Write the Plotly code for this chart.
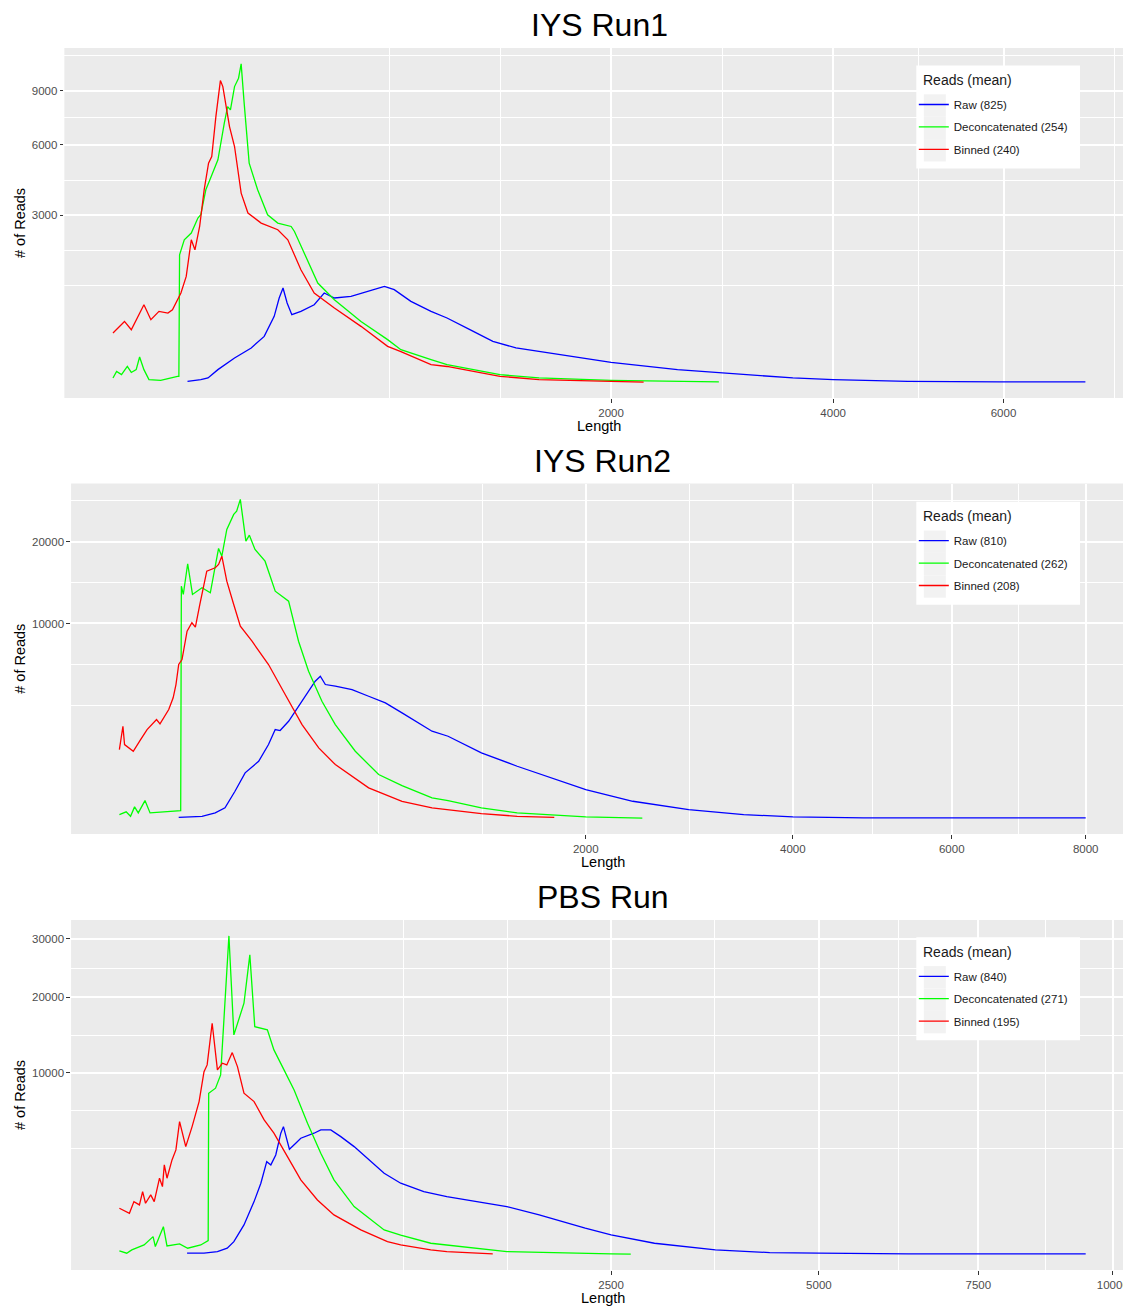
import numpy as np
import plotly.graph_objects as go

W, H = 1123, 1308          # target picture size (all layout pixels below are in this space)
FIG_W = 1129               # figure width that the photographed page is fitted from
FONT = "Liberation Sans, Arial, Helvetica, sans-serif"

# ---------------- data ----------------
# IYS Run1
run1_raw_len = [88, 110, 123, 142, 177, 216, 249, 276, 290, 301, 313, 327, 355, 398, 432, 468, 530, 596, 666, 709,
                785, 882, 963, 1085, 1215, 1353, 1650, 2000, 2526, 2912, 3586, 4000, 4827, 5952, 7105]
run1_raw_cnt = [1.9, 3.7, 6.1, 26.5, 79, 147, 251, 497, 795, 987, 707, 521, 571, 678, 888, 795, 824, 919, 1019, 953,
                735, 571, 474, 324, 203, 147, 99, 56, 26.5, 16.7, 6.1, 3.7, 1.9, 1.4, 1.4]
run1_dec_len = [10, 12, 15, 19, 22, 26, 29, 33, 38, 51, 73, 75, 76, 83, 94, 105, 110, 119, 129, 142,
                155, 162, 168, 177, 186, 192, 199, 211, 232, 258, 286, 325, 335, 366, 410, 468, 569, 680, 739, 882,
                963, 1257, 1498, 2000, 2885]
run1_dec_cnt = [6, 21, 12.5, 38.5, 18, 26.5, 85, 26.5, 3.7, 2.9, 8.9, 9, 1774, 2204, 2411, 2908, 3023, 3972, 4529, 5281,
                7135, 8066, 7876, 9262, 9789, 10720, 8263, 5128, 3972, 3023, 2737, 2624, 2461, 1821, 1090, 765, 427, 219, 134, 70,
                46, 12.5, 6.1, 2.9, 1.5]
run1_bin_len = [10, 17, 22, 33, 40, 49, 60, 66, 78, 86, 94, 100, 108, 116, 124, 130, 138, 147, 152, 166,
                177, 192, 208, 241, 286, 315, 355, 398, 468, 569, 680, 739, 882, 963, 1257, 1498, 2000, 2250]
run1_bin_cnt = [287, 427, 324, 678, 450, 571, 546, 597, 888, 1235, 2204, 1912, 2624, 3972, 5128, 5436, 7498, 9637, 9262, 6952,
                5921, 3839, 3084, 2737, 2516, 2204, 1391, 888, 624, 364, 160, 120, 46, 38, 9, 3.7, 1.9, 1.3]

# IYS Run2
run2_raw_len = [69, 108, 134, 155, 178, 203, 239, 267, 287, 302, 329, 374, 421, 440, 459, 498, 567, 640, 718, 800,
                959, 1050, 1252, 1489, 2000, 2394, 2908, 3463, 4000, 4841, 6000, 8000]
run2_raw_cnt = [3.1, 5.2, 16, 43, 224, 590, 910, 1493, 2139, 2092, 2546, 3672, 5004, 5370, 4770, 4652, 4426, 3986, 3575, 2994,
                2060, 1836, 1185, 764, 250, 98, 32, 9.9, 3.9, 2.2, 2.2, 2.2]
run2_dec_len = [9, 13, 16, 19, 22, 28, 33, 55, 72, 73, 76, 83, 91, 108, 124, 134, 141, 148, 159, 175,
                182, 191, 205, 214, 229, 257, 287, 329, 362, 397, 446, 498, 581, 686, 800, 959, 1050, 1252, 1489, 2000,
                2478]
run2_dec_cnt = [9.9, 20.4, 5.2, 49.7, 16, 105, 16, 23.2, 26.8, 14141, 13158, 16971, 13158, 13948, 13356, 16655, 19053, 17990, 21806, 24110,
                24632, 26530, 20088, 20961, 18913, 17316, 13544, 12390, 8285, 5747, 3672, 2380, 1242, 549, 319, 135, 105, 43, 16, 3.9,
                1.9]
run2_bin_len = [9, 11, 12, 18, 24, 30, 40, 44, 55, 61, 65, 69, 74, 82, 90, 96, 104, 117, 134, 141,
                148, 159, 175, 191, 221, 267, 318, 374, 434, 498, 640, 800, 959, 1050, 1252, 1489, 1756]
run2_bin_cnt = [1304, 2296, 1493, 1242, 1696, 2139, 2634, 2415, 3180, 3884, 4770, 6274, 6682, 9235, 10072, 9628, 12020, 16008, 16447, 16879,
                17990, 14750, 12020, 9728, 8285, 6274, 4096, 2380, 1367, 812, 278, 98, 43, 32, 13.3, 5.2, 3.1]

# PBS Run
pbs_raw_len = [60, 89, 116, 138, 154, 180, 208, 228, 246, 259, 275, 292, 301, 315, 322, 345, 364, 416, 444, 487,
               532, 595, 662, 750, 843, 982, 1131, 1290, 1569, 1835, 2249, 2500, 2951, 3648, 4331, 5000, 6335, 9467]
pbs_raw_cnt = [2.2, 2.2, 5.5, 17.7, 61, 287, 880, 1578, 2655, 2473, 3046, 4496, 4992, 3793, 3400, 3793, 4137, 4496, 4741, 4741,
               4250, 3567, 2850, 2042, 1578, 1235, 1050, 913, 726, 502, 229, 132, 48, 10.7, 3.3, 2.2, 1.2, 1.2]
pbs_dec_len = [1, 3, 5, 12, 19, 21, 29, 33, 49, 61, 83, 97, 98, 112, 123, 131, 142, 154, 167, 180,
               196, 210, 248, 269, 303, 339, 390, 444, 501, 595, 750, 843, 1026, 1131, 1569, 2500, 2700]
pbs_dec_cnt = [7.5, 2.2, 10.7, 36, 111, 26, 256, 30, 43, 17.7, 36, 70, 7905, 8398, 9783, 16631, 30578, 14584, 16631, 19068,
               27055, 15700, 15252, 12672, 10331, 8228, 5258, 3150, 1725, 726, 202, 130, 48, 36, 5.5, 1.2, 1]
pbs_bin_len = [1, 4, 6, 9, 11, 13, 17, 20, 25, 28, 30, 33, 39, 44, 49, 58, 68, 80, 89, 95,
               105, 116, 127, 137, 150, 163, 180, 208, 238, 269, 315, 364, 430, 501, 628, 768, 843, 1026, 1131, 1460]
pbs_bin_cnt = [679, 544, 880, 777, 1235, 829, 1111, 880, 1803, 1434, 2473, 1803, 2752, 3355, 5386, 3567, 4992, 7110, 10143, 10893,
               16170, 10331, 11089, 10893, 12342, 10700, 7905, 7110, 5523, 4496, 2944, 1725, 936, 502, 202, 61, 36, 10.7, 5.5, 1.2]

titles = ["IYS Run1", "IYS Run2", "PBS Run"]
series_names = ["Raw", "Deconcatenated", "Binned"]
mean_reads = [[825, 254, 240], [810, 262, 208], [840, 271, 195]]
x_breaks = [[2000, 4000, 6000], [2000, 4000, 6000, 8000], [2500, 5000, 7500, 10000]]
y_breaks = [[3000, 6000, 9000], [10000, 20000], [10000, 20000, 30000]]
x_title = "Length"
y_title = "# of Reads"
legend_title = "Reads (mean)"

data = [
    [(run1_raw_len, run1_raw_cnt), (run1_dec_len, run1_dec_cnt), (run1_bin_len, run1_bin_cnt)],
    [(run2_raw_len, run2_raw_cnt), (run2_dec_len, run2_dec_cnt), (run2_bin_len, run2_bin_cnt)],
    [(pbs_raw_len, pbs_raw_cnt), (pbs_dec_len, pbs_dec_cnt), (pbs_bin_len, pbs_bin_cnt)],
]

# ---------------- styling / layout constants (picture pixels) ----------------
COLORS = ["#0000FF", "#00FF00", "#FF0000"]
PANELS = [(64.3, 48, 398), (71, 483.5, 834), (71, 920, 1270)]   # left, top, bottom
RIGHT_FULL = 1133                                               # panel runs past the picture edge
LEGEND_BOX = [(915.5, 65.5), (915.5, 501.7), (915.5, 937.3)]    # top-left of legend boxes
LEG_W, LEG_H = 163.5, 103
KEY_X0, KEY_W, KEY_Y0, KEY_H = 7.5, 22, 28.8, 22.4


def px(x):
    return x / W


def py(y):
    return 1 - y / H


def expand(lo, hi, mult=0.05):
    span = hi - lo
    return lo - mult * span, hi + mult * span


def gg_minor(bt, lo, hi):
    b = list(bt)
    bd = b[1] - b[0]
    if lo < b[0]:
        b = [b[0] - bd] + b
    if hi > b[-1]:
        b = b + [b[-1] + bd]
    out = []
    for a, c in zip(b[:-1], b[1:]):
        out += [a, (a + c) / 2]
    out.append(b[-1])
    return [v for v in out if all(abs(v - m) > 1e-6 for m in bt)]


fig = go.Figure()
layout = dict(
    width=FIG_W, height=H, margin=dict(l=0, r=0, t=0, b=0),
    paper_bgcolor="white", plot_bgcolor="#EBEBEB",
    font=dict(family=FONT, color="#1A1A1A"),
    showlegend=True, annotations=[], shapes=[],
)

for i in range(3):
    left, top, bottom = PANELS[i]
    xid = "" if i == 0 else str(i + 1)
    leg = "legend" if i == 0 else f"legend{i + 1}"

    all_x = np.sqrt(np.concatenate([np.array(d[0], float) for d in data[i]]))
    all_y = np.sqrt(np.concatenate([np.array(d[1], float) for d in data[i]]))
    xlo, xhi = expand(all_x.min(), all_x.max())
    ylo, yhi = expand(all_y.min(), all_y.max())
    x_vis_hi = xlo + (xhi - xlo) * (W - left) / (RIGHT_FULL - left)

    for k in range(3):
        L, C = data[i][k]
        fig.add_trace(go.Scatter(
            x=np.sqrt(np.array(L, float)), y=np.sqrt(np.array(C, float)),
            mode="lines", line=dict(color=COLORS[k], width=1.3),
            name=f"{series_names[k]} ({mean_reads[i][k]})",
            legend=leg, legendgroup=f"p{i}s{k}",
            xaxis="x" + xid, yaxis="y" + xid,
            customdata=np.array(L), text=[str(c) for c in C],
            hovertemplate="Length %{customdata}<br>Reads %{text}<extra></extra>",
        ))

    xb = np.sqrt(np.array(x_breaks[i], float))
    yb = np.sqrt(np.array(y_breaks[i], float))
    common = dict(
        showgrid=True, gridcolor="white", gridwidth=1.5,
        zeroline=False, showline=False,
        ticks="outside", ticklen=3.7, tickwidth=1.1, tickcolor="#333333",
        tickfont=dict(family=FONT, size=11.5, color="#4D4D4D"),
        tickmode="array", ticklabeloverflow="allow",
    )
    layout["xaxis" + xid] = dict(
        common, domain=[px(left), 1.0], range=[xlo, x_vis_hi], anchor="y" + xid,
        tickvals=list(xb), ticktext=[str(v) for v in x_breaks[i]],
        minor=dict(tickmode="array", tickvals=gg_minor(xb, abs(xlo), xhi),
                   showgrid=True, gridcolor="white", gridwidth=0.75, ticks=""),
    )
    layout["yaxis" + xid] = dict(
        common, domain=[py(bottom), py(top)], range=[ylo, yhi], anchor="x" + xid,
        tickvals=list(yb), ticktext=[str(v) for v in y_breaks[i]],
        minor=dict(tickmode="array", tickvals=gg_minor(yb, abs(ylo), yhi),
                   showgrid=True, gridcolor="white", gridwidth=0.75, ticks=""),
    )

    # legend: white box + grey key squares drawn as shapes, entries by plotly legend
    lx, ly = LEGEND_BOX[i]
    layout["shapes"].append(dict(
        type="rect", xref="paper", yref="paper", layer="above",
        x0=px(lx), x1=px(lx + LEG_W), y0=py(ly + LEG_H), y1=py(ly),
        fillcolor="white", line=dict(width=0)))
    for k in range(3):
        layout["shapes"].append(dict(
            type="rect", xref="paper", yref="paper", layer="above",
            x0=px(lx + KEY_X0), x1=px(lx + KEY_X0 + KEY_W),
            y0=py(ly + KEY_Y0 + KEY_H * (k + 1)), y1=py(ly + KEY_Y0 + KEY_H * k),
            fillcolor="#F2F2F2", line=dict(width=0)))
    layout[leg] = dict(
        x=px(lx - 2.5), y=py(ly + 24.5), xanchor="left", yanchor="top",
        bgcolor="rgba(0,0,0,0)", borderwidth=0,
        font=dict(family=FONT, size=11.5, color="#1A1A1A"),
        traceorder="grouped", tracegroupgap=3.4,
    )
    layout["annotations"].append(dict(
        text=legend_title, x=px(lx + 5), y=py(ly + 14.5), xref="paper", yref="paper",
        xanchor="left", yanchor="middle", showarrow=False,
        font=dict(family=FONT, size=14, color="#1A1A1A")))

    cx = (left + RIGHT_FULL) / 2
    layout["annotations"] += [
        dict(text=titles[i], x=px(cx), y=py(top - 23), xref="paper", yref="paper",
             xanchor="center", yanchor="middle", showarrow=False,
             font=dict(family=FONT, size=32, color="black")),
        dict(text=x_title, x=px(cx), y=py(bottom + 28), xref="paper", yref="paper",
             xanchor="center", yanchor="middle", showarrow=False,
             font=dict(family=FONT, size=14.5, color="black")),
        dict(text=y_title, x=px(20), y=py((top + bottom) / 2), xref="paper", yref="paper",
             xanchor="center", yanchor="middle", showarrow=False, textangle=-90,
             font=dict(family=FONT, size=14.5, color="black")),
    ]

fig.update_layout(**layout)
fig.write_html(
    "out.html",
    config={"displayModeBar": False},
    post_script="document.body.style.margin='0';document.body.style.overflow='hidden';",
)
